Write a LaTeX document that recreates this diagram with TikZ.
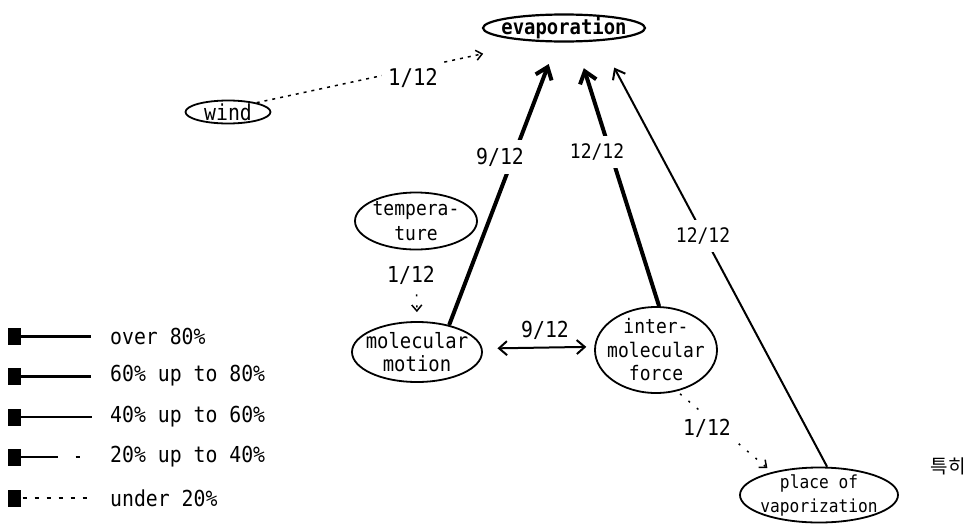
\documentclass[tikz,border=0pt]{standalone}
\usepackage{fontspec}
\setmonofont{DejaVu Sans Mono}[FakeStretch=0.9]
\newfontfamily\kofont{Noto Sans CJK KR}
\usetikzlibrary{shapes.geometric,arrows.meta}
\newcommand\setfs[2]{\fontsize{#1}{#2}\selectfont}
\begin{document}
\begin{tikzpicture}[x=1pt,y=-1pt,
  ell/.style={ellipse, draw, line width=1.8pt, inner sep=0pt},
  intxt/.style={align=center, inner sep=0pt, font=\ttfamily\setfs{22}{23}},
  wt/.style={font=\ttfamily\setfs{22}{23}, fill=white, inner xsep=6pt, inner ysep=8pt},
  legtxt/.style={font=\ttfamily\setfs{22}{23}, anchor=west, inner sep=0pt},
  heavy/.style={line width=4pt, -{Straight Barb[length=11pt,width=17pt]}},
  medium/.style={line width=2pt, -{Straight Barb[length=9pt,width=14pt]}},
  faint/.style={line width=1.5pt, dash pattern=on 3pt off 5pt, -{Straight Barb[length=6pt,width=10pt]}},
  sparse/.style={line width=1.5pt, dash pattern=on 2pt off 9pt, -{Straight Barb[length=6pt,width=10pt]}},
  both/.style={line width=2pt, {Straight Barb[length=8pt,width=14pt]}-{Straight Barb[length=8pt,width=14pt]}},
  keybox/.style={fill=black, minimum width=13pt, minimum height=17pt, inner sep=0pt},
]
\useasboundingbox (0,0) rectangle (974,525);

% concept nodes
\node[ell, line width=2.2pt, minimum width=162, minimum height=27,
  label={[intxt, font=\ttfamily\bfseries\setfs{21}{23}]center:{evaporation}}] (ev) at (564,28) {};
\node[ell, minimum width=85, minimum height=23,
  label={[intxt]center:{wind}}] (wind) at (228,112) {};
\node[ell, minimum width=122, minimum height=57,
  label={[intxt, font=\ttfamily\setfs{20}{25}]center:{tempera-\\ture}}] (temp) at (416,221) {};
\node[ell, minimum width=130, minimum height=60,
  label={[intxt, font=\ttfamily\setfs{21}{23}]center:{molecular\\motion}}] (mm) at (417,352) {};
\node[ell, minimum width=122, minimum height=86,
  label={[intxt, font=\ttfamily\setfs{20}{23.5}]center:{inter-\\molecular\\force}}] (im) at (656,350) {};
\node[ell, minimum width=158, minimum height=55,
  label={[intxt, font=\ttfamily\setfs{18}{24}]center:{place of\\vaporization}}] (pv) at (819,495) {};
\node[font=\kofont\setfs{19}{23}, inner sep=0pt] (note) at (948,466) {특히};

% connectors
\draw[faint, shorten >=56pt] (wind.18) -- (ev.208);
\draw[heavy, shorten >=23pt] (mm.40) -- (ev.244);
\draw[heavy, shorten >=27pt] (im.86) -- (ev.309);
\draw[medium, shorten >=30pt] (pv.74) -- (ev.340);
\draw[sparse, shorten <=44pt, shorten >=9pt] (temp.south) -- (mm.north);
\draw[both, shorten <=15pt, shorten >=8pt] (mm.3) -- (im.177);
\draw[sparse, shorten <=4pt, shorten >=6pt] (im.297) -- (pv.154);

% connector labels
\node[wt, font=\ttfamily\setfs{23}{23}] (l1) at (413,78) {1/12};
\node[wt] (l2) at (500,157) {9/12};
\node[wt, font=\ttfamily\setfs{20}{23}] (l3) at (597,152) {12/12};
\node[wt, font=\ttfamily\setfs{20}{23}] (l4) at (703,236) {12/12};
\node[wt, fill=none] (l5) at (411,275) {1/12};
\node[wt, fill=none] (l6) at (545,330) {9/12};
\node[wt] (l7) at (707,428) {1/12};

% legend
\node[keybox] (k1) at (14,336) {};
\draw[line width=3pt] (k1.east) -- ++(70,0);
\node[legtxt] (t1) at (110,336) {over 80\%};
\node[keybox] (k2) at (14,376) {};
\draw[line width=3pt] (k2.east) -- ++(70,0);
\node[legtxt] (t2) at (110,376) {60\% up to 80\%};
\node[keybox] (k3) at (14,417) {};
\draw[line width=2.2pt] (k3.east) -- ++(71,0);
\node[legtxt] (t3) at (110,417) {40\% up to 60\%};
\node[keybox] (k4) at (14,457) {};
\draw[line width=2pt] (k4.east) -- ++(37,0) ++(18,0) -- ++(4,0);
\node[legtxt] (t4) at (110,457) {20\% up to 40\%};
\node[keybox] (k5) at (14,498) {};
\draw[line width=1.5pt, dash pattern=on 4pt off 8pt] ([xshift=2pt]k5.east) -- ++(70,0);
\node[legtxt] (t5) at (110,498) {under 20\%};
\end{tikzpicture}
\end{document}
